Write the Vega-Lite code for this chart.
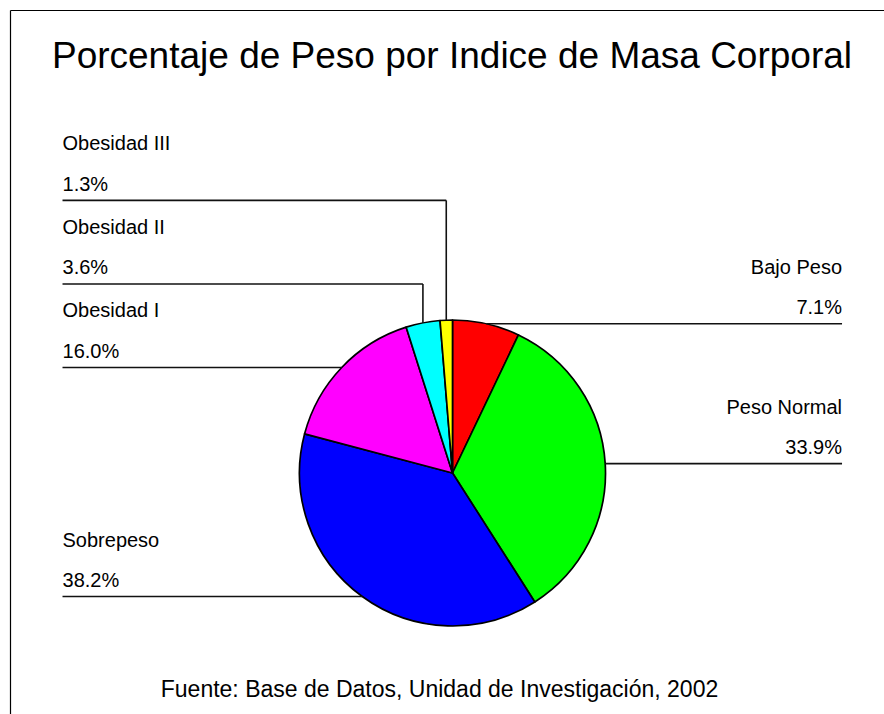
{
  "$schema": "https://vega.github.io/schema/vega-lite/v6.json",
  "autosize": "none",
  "width": 874,
  "height": 704,
  "padding": {"left": 10, "top": 10, "right": 0, "bottom": 0},
  "background": "white",
  "config": {"view": {"stroke": null}, "axis": {"grid": false}},
  "title": {
    "text": "Fuente: Base de Datos, Unidad de Investigación, 2002",
    "orient": "bottom",
    "anchor": "middle",
    "frame": "group",
    "font": "Liberation Sans",
    "fontSize": 23,
    "fontWeight": "normal",
    "color": "black",
    "baseline": "alphabetic",
    "offset": -17.5,
    "dx": -7.5
  },
  "data": {
    "values": [
      {"cat": "Bajo Peso", "share": 0.071, "order": 1},
      {"cat": "Peso Normal", "share": 0.339, "order": 2},
      {"cat": "Sobrepeso", "share": 0.382, "order": 3},
      {"cat": "Obesidad I", "share": 0.160, "order": 4},
      {"cat": "Obesidad II", "share": 0.036, "order": 5},
      {"cat": "Obesidad III", "share": 0.013, "order": 6}
    ]
  },
  "transform": [
    {"joinaggregate": [{"op": "sum", "field": "share", "as": "total"}]},
    {"window": [{"op": "sum", "field": "share", "as": "cum"}], "sort": [{"field": "order"}], "frame": [null, 0]},
    {"calculate": "2 * PI * (datum.cum - datum.share / 2) / datum.total", "as": "ang"},
    {"calculate": "sin(datum.ang)", "as": "ax"},
    {"calculate": "cos(datum.ang)", "as": "ay"},
    {"calculate": "datum.ax >= 0 ? 'right' : 'left'", "as": "side"},
    {"window": [{"op": "row_number", "as": "k"}], "groupby": ["side"], "sort": [{"field": "ay"}]},
    {"calculate": "datum.ay - 0.546 * datum.k", "as": "v"},
    {"window": [{"op": "max", "field": "v", "as": "vmax"}], "groupby": ["side"], "sort": [{"field": "ay"}], "frame": [null, 0]},
    {"calculate": "datum.vmax + 0.546 * datum.k", "as": "level"},
    {"calculate": "datum.side == 'right' ? 2.546 : -2.549", "as": "edge"}
  ],
  "layer": [
    {
      "mark": {"type": "arc", "radius": 153, "stroke": "black", "strokeWidth": 1.7, "strokeJoin": "round"},
      "encoding": {
        "theta": {"field": "share", "type": "quantitative", "stack": true},
        "order": {"field": "order", "type": "quantitative"},
        "color": {
          "field": "cat", "type": "nominal", "legend": null,
          "scale": {
            "domain": ["Bajo Peso", "Peso Normal", "Sobrepeso", "Obesidad I", "Obesidad II", "Obesidad III"],
            "range": ["#ff0000", "#00ff00", "#0000ff", "#ff00ff", "#00ffff", "#ffff00"]
          }
        },
        "x": {"datum": 0, "type": "quantitative", "scale": {"domain": [-2.8922, 2.8203], "nice": false, "zero": false},
          "axis": {"orient": "top", "domain": true, "domainColor": "black", "domainWidth": 1.2, "ticks": false, "labels": false, "grid": false,
            "title": "Porcentaje de Peso por Indice de Masa Corporal", "titleFont": "Liberation Sans", "titleFontSize": 37, "titleFontWeight": "normal",
            "titleColor": "black", "titleBaseline": "alphabetic", "titleAlign": "center", "titleAnchor": "start", "titleX": 441.5, "titleY": 57.5}},
        "y": {"datum": 0, "type": "quantitative", "scale": {"domain": [-1.5752, 3.0261], "nice": false, "zero": false},
          "axis": {"orient": "left", "domain": true, "domainColor": "black", "domainWidth": 1.2, "ticks": false, "labels": false, "grid": false, "title": null}}
      }
    },
    {
      "mark": {"type": "rule", "color": "#111111", "strokeWidth": 1.6},
      "encoding": {
        "x": {"field": "edge", "type": "quantitative", "scale": {"domain": [-2.8922, 2.8203], "nice": false, "zero": false},
          "axis": {"orient": "top", "domain": true, "domainColor": "black", "domainWidth": 1.2, "ticks": false, "labels": false, "grid": false,
            "title": "Porcentaje de Peso por Indice de Masa Corporal", "titleFont": "Liberation Sans", "titleFontSize": 37, "titleFontWeight": "normal",
            "titleColor": "black", "titleBaseline": "alphabetic", "titleAlign": "center", "titleAnchor": "start", "titleX": 441.5, "titleY": 57.5}},
        "x2": {"field": "ax"},
        "y": {"field": "level", "type": "quantitative", "scale": {"domain": [-1.5752, 3.0261], "nice": false, "zero": false},
          "axis": {"orient": "left", "domain": true, "domainColor": "black", "domainWidth": 1.2, "ticks": false, "labels": false, "grid": false, "title": null}}
      }
    },
    {
      "mark": {"type": "rule", "color": "#111111", "strokeWidth": 1.6},
      "encoding": {
        "x": {"field": "ax", "type": "quantitative", "scale": {"domain": [-2.8922, 2.8203], "nice": false, "zero": false},
          "axis": {"orient": "top", "domain": true, "domainColor": "black", "domainWidth": 1.2, "ticks": false, "labels": false, "grid": false,
            "title": "Porcentaje de Peso por Indice de Masa Corporal", "titleFont": "Liberation Sans", "titleFontSize": 37, "titleFontWeight": "normal",
            "titleColor": "black", "titleBaseline": "alphabetic", "titleAlign": "center", "titleAnchor": "start", "titleX": 441.5, "titleY": 57.5}},
        "y": {"field": "level", "type": "quantitative", "scale": {"domain": [-1.5752, 3.0261], "nice": false, "zero": false},
          "axis": {"orient": "left", "domain": true, "domainColor": "black", "domainWidth": 1.2, "ticks": false, "labels": false, "grid": false, "title": null}},
        "y2": {"field": "ay"}
      }
    },
    {
      "transform": [{"filter": "datum.side == 'left'"}],
      "mark": {"type": "text", "align": "left", "baseline": "alphabetic", "dy": -50, "font": "Liberation Sans", "fontSize": 20, "color": "black"},
      "encoding": {
        "x": {"field": "edge", "type": "quantitative", "scale": {"domain": [-2.8922, 2.8203], "nice": false, "zero": false},
          "axis": {"orient": "top", "domain": true, "domainColor": "black", "domainWidth": 1.2, "ticks": false, "labels": false, "grid": false,
            "title": "Porcentaje de Peso por Indice de Masa Corporal", "titleFont": "Liberation Sans", "titleFontSize": 37, "titleFontWeight": "normal",
            "titleColor": "black", "titleBaseline": "alphabetic", "titleAlign": "center", "titleAnchor": "start", "titleX": 441.5, "titleY": 57.5}},
        "y": {"field": "level", "type": "quantitative", "scale": {"domain": [-1.5752, 3.0261], "nice": false, "zero": false},
          "axis": {"orient": "left", "domain": true, "domainColor": "black", "domainWidth": 1.2, "ticks": false, "labels": false, "grid": false, "title": null}},
        "text": {"field": "cat", "type": "nominal"}
      }
    },
    {
      "transform": [{"filter": "datum.side == 'left'"}],
      "mark": {"type": "text", "align": "left", "baseline": "alphabetic", "dy": -9.5, "font": "Liberation Sans", "fontSize": 20, "color": "black"},
      "encoding": {
        "x": {"field": "edge", "type": "quantitative", "scale": {"domain": [-2.8922, 2.8203], "nice": false, "zero": false},
          "axis": {"orient": "top", "domain": true, "domainColor": "black", "domainWidth": 1.2, "ticks": false, "labels": false, "grid": false,
            "title": "Porcentaje de Peso por Indice de Masa Corporal", "titleFont": "Liberation Sans", "titleFontSize": 37, "titleFontWeight": "normal",
            "titleColor": "black", "titleBaseline": "alphabetic", "titleAlign": "center", "titleAnchor": "start", "titleX": 441.5, "titleY": 57.5}},
        "y": {"field": "level", "type": "quantitative", "scale": {"domain": [-1.5752, 3.0261], "nice": false, "zero": false},
          "axis": {"orient": "left", "domain": true, "domainColor": "black", "domainWidth": 1.2, "ticks": false, "labels": false, "grid": false, "title": null}},
        "text": {"field": "share", "type": "quantitative", "format": ".1%"}
      }
    },
    {
      "transform": [{"filter": "datum.side == 'right'"}],
      "mark": {"type": "text", "align": "right", "baseline": "alphabetic", "dy": -50, "font": "Liberation Sans", "fontSize": 20, "color": "black"},
      "encoding": {
        "x": {"field": "edge", "type": "quantitative", "scale": {"domain": [-2.8922, 2.8203], "nice": false, "zero": false},
          "axis": {"orient": "top", "domain": true, "domainColor": "black", "domainWidth": 1.2, "ticks": false, "labels": false, "grid": false,
            "title": "Porcentaje de Peso por Indice de Masa Corporal", "titleFont": "Liberation Sans", "titleFontSize": 37, "titleFontWeight": "normal",
            "titleColor": "black", "titleBaseline": "alphabetic", "titleAlign": "center", "titleAnchor": "start", "titleX": 441.5, "titleY": 57.5}},
        "y": {"field": "level", "type": "quantitative", "scale": {"domain": [-1.5752, 3.0261], "nice": false, "zero": false},
          "axis": {"orient": "left", "domain": true, "domainColor": "black", "domainWidth": 1.2, "ticks": false, "labels": false, "grid": false, "title": null}},
        "text": {"field": "cat", "type": "nominal"}
      }
    },
    {
      "transform": [{"filter": "datum.side == 'right'"}],
      "mark": {"type": "text", "align": "right", "baseline": "alphabetic", "dy": -9.5, "font": "Liberation Sans", "fontSize": 20, "color": "black"},
      "encoding": {
        "x": {"field": "edge", "type": "quantitative", "scale": {"domain": [-2.8922, 2.8203], "nice": false, "zero": false},
          "axis": {"orient": "top", "domain": true, "domainColor": "black", "domainWidth": 1.2, "ticks": false, "labels": false, "grid": false,
            "title": "Porcentaje de Peso por Indice de Masa Corporal", "titleFont": "Liberation Sans", "titleFontSize": 37, "titleFontWeight": "normal",
            "titleColor": "black", "titleBaseline": "alphabetic", "titleAlign": "center", "titleAnchor": "start", "titleX": 441.5, "titleY": 57.5}},
        "y": {"field": "level", "type": "quantitative", "scale": {"domain": [-1.5752, 3.0261], "nice": false, "zero": false},
          "axis": {"orient": "left", "domain": true, "domainColor": "black", "domainWidth": 1.2, "ticks": false, "labels": false, "grid": false, "title": null}},
        "text": {"field": "share", "type": "quantitative", "format": ".1%"}
      }
    }
  ]
}
